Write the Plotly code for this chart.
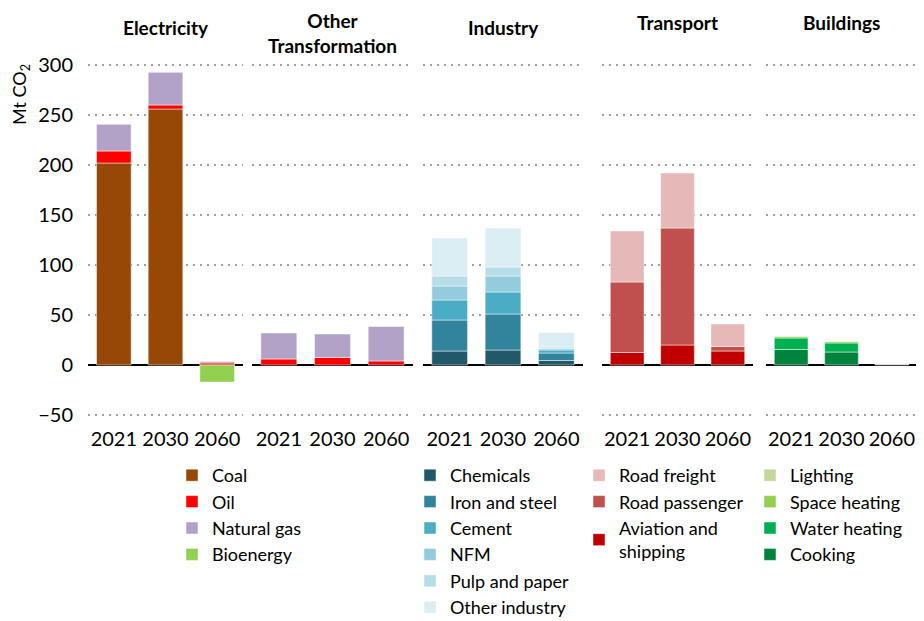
import plotly.graph_objects as go

years = ["2021", "2030", "2060"]

# Electricity
elec_coal = [202, 256, 0]
elec_oil = [12, 4, 2]
elec_gas = [27, 33, 1.5]
elec_bio = [0, 0, -17]

# Other transformation
ot_oil = [6, 7.5, 4]
ot_gas = [26, 23.5, 34.5]

# Industry
ind_chem = [14, 15, 4.5]
ind_steel = [31, 36, 7.5]
ind_cement = [20, 22, 3]
ind_nfm = [14, 16, 1.5]
ind_pulp = [10, 9, 1.5]
ind_other = [38, 39, 14.5]

# Transport
tr_aviation = [12.5, 20, 14]
tr_passenger = [70.5, 117, 4.5]
tr_freight = [51, 55, 22.5]

# Buildings
bld_cooking = [15.5, 13, 0.8]
bld_water = [11.5, 9, 0.2]
bld_space = [1.7, 1.5, 0.2]
bld_lighting = [0.3, 0.3, 0.1]

sector_titles = ["Electricity", "Other<br>Transformation", "Industry", "Transport", "Buildings"]
title_y = [27, 33, 27, 22, 22]

# page has an 8px body margin, so work in reference pixels and subtract it
OFF = 8
W, H = 924 - OFF, 621 - OFF
L, T = 88 - OFF, 55 - OFF
R = 7
B = H - (425 - OFF)
pw = W - L - R
ph = H - T - B
panels_px = [(88, 243), (252, 413), (423, 583), (602, 753), (766, 917)]


def px_x(p):
    return (p - OFF - L) / pw


def px_y(p):
    return (H - B - (p - OFF)) / ph


domains = [(px_x(a), px_x(b)) for a, b in panels_px]

FONT = "Lato"
fig = go.Figure()


def add(vals, name, color, col, legend=None):
    ax = "" if col == 1 else str(col)
    fig.add_trace(go.Bar(
        x=years, y=vals, name=name,
        marker=dict(color=color, line=dict(color="rgba(255,255,255,0.6)", width=0.8)),
        xaxis="x" + ax, yaxis="y" + ax,
        showlegend=legend is not None,
        legend=legend if legend else "legend",
    ))


add(elec_coal, "Coal", "#974706", 1, "legend")
add(elec_oil, "Oil", "#FF0000", 1, "legend")
add(elec_gas, "Natural gas", "#B3A2C7", 1, "legend")
add(elec_bio, "Bioenergy", "#92D050", 1, "legend")

add(ot_oil, "Oil", "#FF0000", 2)
add(ot_gas, "Natural gas", "#B3A2C7", 2)

add(ind_chem, "Chemicals", "#215968", 3, "legend2")
add(ind_steel, "Iron and steel", "#31849B", 3, "legend2")
add(ind_cement, "Cement", "#4BACC6", 3, "legend2")
add(ind_nfm, "NFM", "#93CDDD", 3, "legend2")
add(ind_pulp, "Pulp and paper", "#B7DEE8", 3, "legend2")
add(ind_other, "Other industry", "#DAEEF3", 3, "legend2")

add(tr_aviation, "Aviation and<br>shipping", "#C00000", 4, "legend3")
add(tr_passenger, "Road passenger", "#C0504D", 4, "legend3")
add(tr_freight, "Road freight", "#E6B9B8", 4, "legend3")

add(bld_cooking, "Cooking", "#00843D", 5, "legend4")
add(bld_water, "Water heating", "#00B050", 5, "legend4")
add(bld_space, "Space heating", "#92D050", 5, "legend4")
add(bld_lighting, "Lighting", "#C3D69B", 5, "legend4")

layout = dict(
    width=W, height=H,
    margin=dict(l=L, r=R, t=T, b=B, autoexpand=False),
    plot_bgcolor="white", paper_bgcolor="white",
    barmode="relative", bargap=0.33,
    font=dict(family=FONT, size=19, color="black"),
)

for i, dom in enumerate(domains):
    n = "" if i == 0 else str(i + 1)
    layout["xaxis" + n] = dict(
        domain=list(dom), anchor="y" + n, type="category",
        showgrid=False, showline=False, ticks="",
        tickfont=dict(size=20),
    )
    ya = dict(
        anchor="x" + n, range=[-60, 310],
        tickvals=[-50, 0, 50, 100, 150, 200, 250, 300],
        showgrid=True, gridcolor="#A0A0A0", griddash="2px,5px", gridwidth=2,
        zeroline=True, zerolinecolor="black", zerolinewidth=1.5,
        showline=False,
    )
    if i == 0:
        ya.update(tickfont=dict(size=20), ticklabelstandoff=14)
    else:
        ya.update(matches="y", showticklabels=False)
    layout["yaxis" + n] = ya

leg_common = dict(
    orientation="v", yanchor="top", xanchor="left",
    font=dict(size=18, family=FONT), bgcolor="rgba(0,0,0,0)",
    itemclick=False, tracegroupgap=0,
)
leg_y = px_y(457)
layout["legend"] = dict(leg_common, x=px_x(172), y=leg_y, traceorder="normal")
layout["legend2"] = dict(leg_common, x=px_x(410), y=leg_y, traceorder="normal")
layout["legend3"] = dict(leg_common, x=px_x(579), y=leg_y, traceorder="reversed")
layout["legend4"] = dict(leg_common, x=px_x(750), y=leg_y, traceorder="reversed")

annotations = []
for i, (t, ty) in enumerate(zip(sector_titles, title_y)):
    a, b = panels_px[i]
    annotations.append(dict(
        text="<b>" + t + "</b>", xref="paper", yref="paper",
        x=px_x((a + b) / 2), y=px_y(ty),
        xanchor="center", yanchor="middle", showarrow=False,
        font=dict(size=19, family=FONT),
    ))
annotations.append(dict(
    text="Mt CO<sub>2</sub>", xref="paper", yref="paper",
    x=px_x(20), y=px_y(95), textangle=-90,
    xanchor="center", yanchor="middle", showarrow=False,
    font=dict(size=18, family=FONT),
))
layout["annotations"] = annotations

fig.update_layout(**layout)
fig.write_html("out.html")
